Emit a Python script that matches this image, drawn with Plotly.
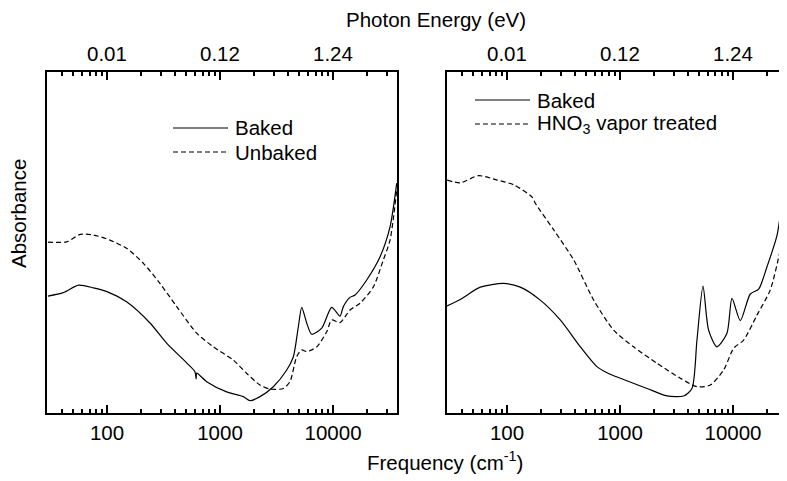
import math
import plotly.graph_objects as go

# ---------------- data ----------------
# Left panel: Baked vs Unbaked
left_baked_freq = [30, 41, 56, 76, 100, 149, 240, 337, 507, 600, 615, 622, 762, 1146, 1607, 1841,
                   2258, 2963, 3893, 4457, 4932, 5284, 5848, 6471, 7943, 9730, 11530, 12340,
                   14130, 15660, 19860, 26060, 31940, 36600]
left_baked_abs = [0.343, 0.353, 0.375, 0.367, 0.356, 0.326, 0.264, 0.205, 0.147, 0.121, 0.100, 0.117,
                  0.092, 0.062, 0.048, 0.036, 0.048, 0.077, 0.126, 0.165, 0.253, 0.310, 0.264,
                  0.231, 0.249, 0.310, 0.284, 0.312, 0.339, 0.346, 0.390, 0.458, 0.546, 0.674]

left_unbaked_freq = [30, 44, 58, 76, 106, 149, 210, 294, 414, 622, 873, 1312, 1722, 2258, 2767,
                     3631, 4159, 4766, 5284, 5848, 7178, 8790, 9730, 11530, 14130, 17340, 22750,
                     27860, 31940, 36600]
left_unbaked_abs = [0.501, 0.502, 0.524, 0.522, 0.507, 0.483, 0.439, 0.380, 0.312, 0.234, 0.194,
                    0.155, 0.116, 0.082, 0.070, 0.072, 0.092, 0.165, 0.185, 0.180, 0.194, 0.238,
                    0.273, 0.265, 0.302, 0.322, 0.370, 0.449, 0.507, 0.654]

# Right panel: Baked vs HNO3 vapor treated
right_baked_freq = [29.5, 38.6, 58, 93, 131, 197, 296, 446, 625, 800, 1007, 1734, 2606, 3659, 4335,
                    4799, 5427, 6081, 7206, 8846, 9795, 11610, 14230, 16870, 20000, 24490, 27350,
                    30270]
right_baked_abs = [0.314, 0.333, 0.369, 0.380, 0.369, 0.331, 0.273, 0.194, 0.136, 0.115, 0.102,
                   0.072, 0.050, 0.050, 0.072, 0.214, 0.372, 0.243, 0.194, 0.234, 0.336, 0.271,
                   0.349, 0.363, 0.429, 0.520, 0.625, 0.742]

right_hno3_freq = [29.5, 38.6, 56, 82, 115, 166, 178, 259, 389, 585, 879, 1318, 2123, 3420, 4799,
                   6295, 8260, 10140, 12420, 16300, 21380, 26230, 30270]
right_hno3_abs = [0.683, 0.675, 0.696, 0.683, 0.669, 0.634, 0.615, 0.537, 0.449, 0.331, 0.243,
                  0.194, 0.146, 0.102, 0.077, 0.082, 0.126, 0.190, 0.214, 0.287, 0.361, 0.478,
                  0.576]

major_vals = [100, 1000, 10000]
bottom_labels = ["100", "1000", "10000"]
top_labels = ["0.01", "0.12", "1.24"]          # photon energy (eV) at the same positions
minor_vals = [m * 10 ** e for e in range(1, 5) for m in range(2, 10)]

# ---------------- figure ----------------
FONT = "Liberation Sans, Arial, Helvetica, sans-serif"
FS = 20.5
line_w = 1.2
dash = "5px,3px"

# page has an 8px body margin: size the figure so the drawing lands where the reference has it
OFF = 8
W, H = 787 - OFF, 481 - OFF
L, R = 47 - OFF, 0
T = 72 - OFF
B = H - (413 - OFF)
pw = W - L - R
ph = H - T - B


def px(xp):
    return (xp - OFF - L) / pw


def py(yp):
    return (H - B - (yp - OFF)) / ph


left_dom = [0, px(397)]
right_dom = [px(447), 1]
left_range = [1.469, 4.566]
right_range = [1.469, 4.478]

fig = go.Figure()
spl = dict(shape="spline", smoothing=0.7)
fig.add_trace(go.Scatter(x=left_baked_freq, y=left_baked_abs, mode="lines", name="Baked",
                         line=dict(color="black", width=line_w, **spl), xaxis="x", yaxis="y"))
fig.add_trace(go.Scatter(x=left_unbaked_freq, y=left_unbaked_abs, mode="lines", name="Unbaked",
                         line=dict(color="black", width=line_w, dash=dash, **spl),
                         xaxis="x", yaxis="y"))
fig.add_trace(go.Scatter(x=right_baked_freq, y=right_baked_abs, mode="lines", name="Baked",
                         line=dict(color="black", width=line_w, **spl), xaxis="x2", yaxis="y2"))
fig.add_trace(go.Scatter(x=right_hno3_freq, y=right_hno3_abs, mode="lines",
                         name="HNO3 vapor treated",
                         line=dict(color="black", width=line_w, dash=dash, **spl),
                         xaxis="x2", yaxis="y2"))

tick_font = dict(family=FONT, size=FS, color="black")
x_common = dict(type="log", showline=True, linecolor="black", linewidth=2, mirror="ticks",
                ticks="inside", ticklen=8, tickwidth=2, tickcolor="black",
                tickvals=major_vals, ticktext=bottom_labels, tickfont=tick_font,
                minor=dict(tickmode="array", tickvals=minor_vals, ticks="inside", ticklen=4,
                           tickwidth=1.5, tickcolor="black"))

fig.update_layout(
    width=W, height=H,
    margin=dict(l=L, r=R, t=T, b=B),
    plot_bgcolor="white",
    showlegend=False,
    xaxis=dict(domain=left_dom, range=left_range, anchor="y", **x_common),
    xaxis2=dict(domain=right_dom, range=right_range, anchor="y2", **x_common),
    yaxis=dict(range=[0, 1], showline=True, linecolor="black", linewidth=2, mirror=True,
               tickvals=[], showticklabels=True),
    yaxis2=dict(range=[0, 1], anchor="x2", showline=True, linecolor="black", linewidth=2,
                showticklabels=False),
)

ann_font = dict(family=FONT, size=FS, color="black")
annotations = [
    dict(text="Photon Energy (eV)", x=px(436), y=py(20), xref="paper", yref="paper",
         showarrow=False, xanchor="center", yanchor="middle", font=ann_font),
    dict(text="Frequency (cm<sup>-1</sup>)", x=px(445), y=py(461), xref="paper", yref="paper",
         showarrow=False, xanchor="center", yanchor="middle", font=ann_font),
    dict(text="Absorbance", x=px(18), y=py(214), xref="paper", yref="paper", textangle=-90,
         showarrow=False, xanchor="center", yanchor="middle", font=ann_font),
    dict(text="Baked", x=px(233), y=py(128), xref="paper", yref="paper",
         showarrow=False, xanchor="left", yanchor="middle", font=ann_font),
    dict(text="Unbaked", x=px(233), y=py(152), xref="paper", yref="paper",
         showarrow=False, xanchor="left", yanchor="middle", font=ann_font),
    dict(text="Baked", x=px(535), y=py(100), xref="paper", yref="paper",
         showarrow=False, xanchor="left", yanchor="middle", font=ann_font),
    dict(text="HNO<sub>3</sub> vapor treated", x=px(535), y=py(124), xref="paper", yref="paper",
         showarrow=False, xanchor="left", yanchor="middle", font=ann_font),
]
# top (photon energy) tick labels, placed at the tick values of each panel's x axis
for xr in ("x", "x2"):
    for v, lab in zip(major_vals, top_labels):
        annotations.append(dict(text=lab, x=math.log10(v), xref=xr, y=py(53), yref="paper",
                                showarrow=False, xanchor="center", yanchor="middle",
                                font=ann_font))
fig.update_layout(annotations=annotations)

shapes = [
    dict(type="line", xref="paper", yref="paper", x0=px(173), x1=px(228), y0=py(128), y1=py(128),
         line=dict(color="black", width=line_w)),
    dict(type="line", xref="paper", yref="paper", x0=px(173), x1=px(228), y0=py(152), y1=py(152),
         line=dict(color="black", width=line_w, dash=dash)),
    dict(type="line", xref="paper", yref="paper", x0=px(475), x1=px(530), y0=py(100), y1=py(100),
         line=dict(color="black", width=line_w)),
    dict(type="line", xref="paper", yref="paper", x0=px(475), x1=px(530), y0=py(124), y1=py(124),
         line=dict(color="black", width=line_w, dash=dash)),
]
fig.update_layout(shapes=shapes)

fig.write_html("out.html")
